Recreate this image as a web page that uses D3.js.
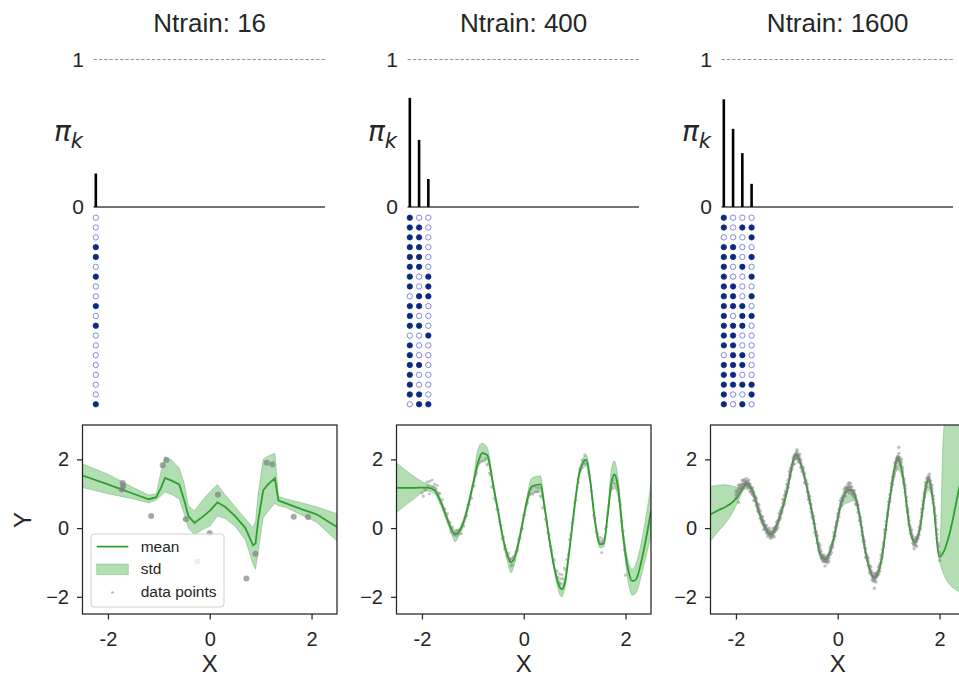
<!DOCTYPE html>
<meta charset="utf-8">
<html>
<style>
  body { margin: 0; background: #fff; }
  text { font-family: "Liberation Sans", Arial, sans-serif; fill: #262626; }
  .tick line { stroke: #262626; stroke-width: 1.25px; }
  .tick text { font-size: 20px; }
</style>
<body>
<script src="https://d3js.org/d3.v7.min.js"></script>
<script>

// titles and mixture weights
var titles = ["Ntrain: 16", "Ntrain: 400", "Ntrain: 1600"];
var piValues = [
  [0.227],
  [0.74, 0.455, 0.19],
  [0.73, 0.53, 0.365, 0.157]
];

// assignment grid (1 = filled, 0 = open), 20 rows each
var zGrid = [
  ["0","0","0","1","1","0","1","0","0","1","0","1","0","0","0","0","0","0","0","1"],
  ["100","110","110","110","110","110","101","101","011","110","100","110","001","100","100","110","100","100","110","011"],
  ["1000","1011","0001","1100","1101","1010","1001","1100","1101","1110","1011","1110","1100","1100","0110","1110","1100","1111","1001","1010"]
];

// predictive mean and std band
var gridX1 = [-2.5,-2.0,-1.5,-1.2,-1.05,-0.95,-0.88,-0.75,-0.6,-0.5,-0.42,-0.3,-0.15,0.0,0.15,0.3,0.5,0.7,0.85,0.9,0.95,1.05,1.15,1.28,1.35,1.5,1.8,2.1,2.5];
var mean1 = [1.53,1.27,1.0,0.84,0.9,1.2,1.46,1.38,1.27,0.8,0.35,0.15,0.32,0.5,0.75,0.62,0.35,0.0,-0.5,-0.45,0.2,1.1,1.28,1.45,0.8,0.72,0.55,0.4,0.03];
var lo1 = [1.18,1.0,0.85,0.73,0.82,0.95,1.05,0.98,0.85,0.4,0.0,-0.2,-0.05,0.05,0.35,0.28,0.05,-0.35,-1.05,-1.2,-0.7,0.3,0.5,0.72,0.65,0.6,0.38,0.17,-0.38];
var hi1 = [1.87,1.57,1.18,0.96,1.0,1.7,2.08,1.98,1.75,1.3,0.65,0.5,0.8,1.05,1.27,0.98,0.62,0.27,0.02,0.2,1.0,2.0,2.1,2.18,0.92,0.85,0.74,0.62,0.42];

var gridX2 = [-2.5,-2.2,-1.9,-1.75,-1.7,-1.6,-1.5,-1.4,-1.35,-1.3,-1.2,-1.1,-1.0,-0.9,-0.82,-0.72,-0.6,-0.5,-0.4,-0.3,-0.25,-0.15,-0.05,0.05,0.15,0.33,0.4,0.5,0.6,0.7,0.75,0.8,0.9,1.0,1.1,1.23,1.3,1.4,1.5,1.57,1.65,1.72,1.78,1.85,1.95,2.05,2.13,2.2,2.35,2.5];
var mean2 = [1.17,1.17,1.18,1.1,0.98,0.65,0.25,-0.1,-0.18,-0.15,0.1,0.6,1.25,1.9,2.18,2.13,1.25,0.45,-0.35,-0.88,-1.0,-0.72,-0.05,0.7,1.2,1.27,0.7,-0.3,-1.15,-1.7,-1.78,-1.65,-0.6,0.65,1.65,1.99,1.45,0.2,-0.47,-0.45,0.4,1.3,1.56,1.2,-0.2,-1.2,-1.54,-1.5,-0.7,0.5];
var lo2 = [0.45,0.8,1.08,1.0,0.88,0.55,0.15,-0.25,-0.4,-0.3,0.0,0.5,1.15,1.75,1.95,1.98,1.15,0.35,-0.45,-1.1,-1.3,-0.85,-0.15,0.6,1.0,1.05,0.6,-0.4,-1.25,-1.9,-2.0,-1.8,-0.7,0.55,1.55,1.8,1.35,0.1,-0.58,-0.55,0.3,1.05,1.15,0.95,-0.35,-1.55,-1.95,-1.9,-1.15,-0.2];
var hi2 = [1.9,1.55,1.28,1.2,1.08,0.75,0.35,0.0,-0.05,-0.05,0.2,0.7,1.35,2.3,2.47,2.35,1.35,0.55,-0.25,-0.78,-0.88,-0.62,0.05,0.8,1.45,1.52,0.8,-0.2,-1.05,-1.55,-1.62,-1.5,-0.5,0.75,1.75,2.12,1.55,0.3,-0.37,-0.35,0.55,1.7,1.95,1.5,0.0,-0.95,-1.2,-1.05,-0.1,1.3];

var gridX3 = [-2.5,-2.35,-2.2,-2.05,-1.95,-1.85,-1.79,-1.67,-1.54,-1.41,-1.31,-1.18,-1.02,-0.82,-0.69,-0.49,-0.33,-0.23,-0.1,0.07,0.22,0.33,0.43,0.56,0.72,0.85,1.02,1.18,1.27,1.42,1.51,1.61,1.74,1.79,1.87,2.0,2.07,2.2,2.36,2.5];
var mean3 = [0.4,0.52,0.62,0.78,0.95,1.2,1.29,1.07,0.44,-0.04,-0.18,0.15,0.93,2.14,1.7,0.35,-0.81,-0.91,-0.43,0.73,1.12,0.98,0.35,-0.81,-1.44,-1.0,0.83,2.04,1.6,-0.04,-0.41,-0.04,1.27,1.41,0.83,-0.83,-0.72,-0.14,0.98,2.0];
var lo3 = [-0.38,-0.1,0.15,0.5,0.8,1.1,1.2,0.98,0.36,-0.12,-0.26,0.07,0.85,2.05,1.62,0.27,-0.89,-0.99,-0.5,0.62,0.75,0.8,0.27,-0.89,-1.52,-1.08,0.75,1.7,1.45,-0.12,-0.5,-0.12,1.0,1.1,0.72,-0.95,-1.3,-1.65,-1.83,-2.0];
var hi3 = [1.22,1.25,1.26,1.22,1.18,1.3,1.38,1.15,0.52,0.04,-0.1,0.23,1.0,2.22,1.78,0.43,-0.73,-0.83,-0.35,0.82,1.2,1.06,0.43,-0.73,-1.36,-0.92,0.91,2.12,1.68,0.04,-0.33,0.04,1.35,1.5,0.92,-0.7,2.6,4.2,5.5,7.0];

// training points
var pts1 = [[-1.71,1.31],[-1.73,1.12],[-1.7,1.22],[-1.15,0.35],[-0.925,1.83],[-0.85,1.98],[-0.47,0.26],[-0.24,-0.97],[0.0,-0.15],[0.16,0.97],[0.72,-1.47],[0.9,-0.75],[1.12,1.9],[1.23,1.86],[1.65,0.33],[1.93,0.32]];

var pts2 = [[-2.0,1.03],[-1.975,0.93],[-1.95,1.13],[-1.925,1.11],[-1.9,1.34],[-1.875,1.24],[-1.85,1.36],[-1.825,1.18],[-1.8,1.40],[-1.775,1.19],
  [-1.75,1.28],[-1.725,1.14],[-1.7,1.24],[-1.675,1.02],[-1.65,1.01],[-1.625,0.72],[-1.6,0.83],[-1.575,0.54],[-1.55,0.55],[-1.525,0.36],
  [-1.5,0.42],[-1.475,0.18],[-1.45,0.16],[-1.425,-0.11],[-1.4,0.03],[-1.375,-0.20],[-1.35,-0.12],[-1.325,-0.22],[-1.3,-0.06],[-1.275,-0.17],
  [-1.25,-0.04],[-1.225,-0.16],[-1.2,0.13],[-1.175,0.06],[-1.15,0.31],[-1.125,0.36],[-1.1,0.67],[-1.075,0.68],[-1.05,0.91],[-1.025,0.87],
  [-1.0,1.23],[-0.975,1.23],[-0.95,1.53],[-0.925,1.60],[-0.9,1.92],[-0.875,1.90],[-0.85,2.08],[-0.825,1.94],[-0.8,2.18],[-0.775,1.96],
  [-0.75,2.03],[-0.725,1.84],[-0.7,1.87],[-0.675,1.60],[-0.65,1.54],[-0.625,1.19],[-0.6,1.23],[-0.575,0.87],[-0.55,0.81],[-0.525,0.54],
  [-0.5,0.52],[-0.475,0.19],[-0.45,0.08],[-0.425,-0.30],[-0.4,-0.27],[-0.375,-0.60],[-0.35,-0.62],[-0.325,-0.81],[-0.3,-0.73],[-0.275,-0.93],
  [-0.25,-0.89],[-0.225,-1.07],[-0.2,-0.84],[-0.175,-0.93],[-0.15,-0.69],[-0.125,-0.64],[-0.1,-0.33],[-0.075,-0.29],[-0.05,-0.02],[-0.025,-0.02],
  [0.0,0.38],[0.025,0.38],[0.05,0.68],[0.075,0.73],[0.1,1.02],[0.125,0.98],[0.15,1.14],[0.175,0.99],[0.2,1.23],[0.225,1.06],
  [0.25,1.18],[0.275,1.06],[0.3,1.17],[0.325,0.94],[0.35,0.91],[0.375,0.58],[0.4,0.63],[0.425,0.26],[0.45,0.18],[0.475,-0.13],
  [0.5,-0.18],[0.525,-0.53],[0.55,-0.64],[0.575,-0.99],[0.6,-0.92],[0.625,-1.25],[0.65,-1.25],[0.675,-1.43],[0.7,-1.33],[0.725,-1.48],
  [0.75,-1.36],[0.775,-1.48],[0.8,-1.17],[0.825,-1.22],[0.85,-0.92],[0.875,-0.77],[0.9,-0.33],[0.925,-0.20],[0.95,0.16],[0.975,0.25],
  [1.0,0.73],[1.025,0.81],[1.05,1.18],[1.075,1.34],[1.1,1.72],[1.125,1.76],[1.15,1.98],[1.175,1.88],[1.2,2.13],[1.225,1.88],
  [1.25,1.88],[1.275,1.60],[1.3,1.52],[1.325,1.09],[1.35,0.86],[1.375,0.37],[1.4,0.28],[1.425,-0.12],[1.45,-0.17],[1.475,-0.37],
  [1.5,-0.28],[1.525,-0.44],[1.55,-0.32],[1.575,-0.40],[1.6,-0.02],[1.625,0.03],[1.65,0.43],[1.675,0.65],[1.7,1.12],[1.725,1.18],
  [1.75,1.41],[1.775,1.30],[1.8,1.53],[1.825,1.22],[1.85,1.13],[1.875,0.80],[1.9,0.67],[1.925,0.20],[1.95,-0.09],[1.975,-0.63],
  [2.0,-0.77],[2.0,-1.37],[1.53,-0.71],[0.72,-1.6],[-0.25,-1.1],[-1.85,1.0]];

// rows: x, then the y values seen at that x
var pts3 = [[-2.0,1.07,0.97,0.86],[-1.975,1.09,0.99,0.89],[-1.95,1.25,1.15,1.05],[-1.925,1.25,1.15,1.04],[-1.9,1.26,1.19,1.12],
  [-1.875,1.39,1.29,1.19],[-1.85,1.40,1.28,1.15],[-1.825,1.38,1.32,1.27],[-1.8,1.44,1.34,1.23],[-1.775,1.35,1.25,1.15],
  [-1.75,1.40,1.30,1.20],[-1.725,1.28,1.18,1.07],[-1.7,1.16,1.09,1.02],[-1.675,1.17,1.07,0.97],[-1.65,1.05,0.93,0.80],
  [-1.625,0.92,0.86,0.81],[-1.6,0.87,0.77,0.66],[-1.575,0.70,0.60,0.50],[-1.55,0.67,0.57,0.47],[-1.525,0.50,0.40,0.29],
  [-1.5,0.34,0.27,0.20],[-1.475,0.33,0.23,0.13],[-1.45,0.20,0.08,-0.05],[-1.425,0.09,0.03,-0.02],[-1.4,0.07,-0.03,-0.14],
  [-1.375,-0.04,-0.14,-0.24],[-1.35,0.00,-0.10,-0.20],[-1.325,-0.08,-0.18,-0.29],[-1.3,-0.14,-0.21,-0.28],[-1.275,-0.02,-0.12,-0.22],
  [-1.25,0.00,-0.12,-0.25],[-1.225,0.04,-0.02,-0.07],[-1.2,0.17,0.07,-0.04],[-1.175,0.22,0.12,0.02],[-1.15,0.43,0.33,0.23],
  [-1.125,0.50,0.40,0.29],[-1.1,0.59,0.52,0.45],[-1.075,0.83,0.73,0.63],[-1.05,0.95,0.83,0.70],[-1.025,1.07,1.01,0.96],
  [-1.0,1.27,1.17,1.06],[-0.975,1.39,1.29,1.19],[-0.95,1.65,1.55,1.45],[-0.925,1.74,1.64,1.53],[-0.9,1.84,1.77,1.70],
  [-0.875,2.05,1.95,1.85],[-0.85,2.12,2.00,1.87],[-0.825,2.14,2.08,2.03],[-0.8,2.22,2.12,2.01],[-0.775,2.12,2.02,1.92],
  [-0.75,2.15,2.05,1.95],[-0.725,1.98,1.88,1.77],[-0.7,1.79,1.72,1.65],[-0.675,1.75,1.65,1.55],[-0.65,1.58,1.46,1.33],
  [-0.625,1.39,1.33,1.28],[-0.6,1.27,1.17,1.06],[-0.575,1.03,0.93,0.83],[-0.55,0.93,0.83,0.73],[-0.525,0.68,0.58,0.47],
  [-0.5,0.44,0.37,0.30],[-0.475,0.34,0.24,0.14],[-0.45,0.12,0.00,-0.13],[-0.425,-0.10,-0.16,-0.21],[-0.4,-0.23,-0.33,-0.44],
  [-0.375,-0.44,-0.54,-0.64],[-0.35,-0.50,-0.60,-0.70],[-0.325,-0.67,-0.77,-0.88],[-0.3,-0.81,-0.88,-0.95],[-0.275,-0.78,-0.88,-0.98],
  [-0.25,-0.85,-0.97,-1.10],[-0.225,-0.87,-0.93,-0.98],[-0.2,-0.80,-0.90,-1.01],[-0.175,-0.77,-0.87,-0.97],[-0.15,-0.57,-0.67,-0.77],
  [-0.125,-0.50,-0.60,-0.71],[-0.1,-0.41,-0.48,-0.55],[-0.075,-0.14,-0.24,-0.34],[-0.05,0.02,-0.10,-0.23],[-0.025,0.18,0.12,0.07],
  [0.0,0.42,0.32,0.21],[0.025,0.54,0.44,0.34],[0.05,0.80,0.70,0.60],[0.075,0.87,0.77,0.66],[0.1,0.94,0.87,0.80],
  [0.125,1.13,1.03,0.93],[0.15,1.18,1.06,0.93],[0.175,1.19,1.13,1.08],[0.2,1.27,1.17,1.06],[0.225,1.22,1.12,1.02],
  [0.25,1.30,1.20,1.10],[0.275,1.20,1.10,0.99],[0.3,1.09,1.02,0.95],[0.325,1.09,0.99,0.89],[0.35,0.95,0.83,0.70],
  [0.375,0.78,0.72,0.67],[0.4,0.67,0.57,0.46],[0.425,0.42,0.32,0.22],[0.45,0.30,0.20,0.10],[0.475,0.01,-0.09,-0.20],
  [0.5,-0.26,-0.33,-0.40],[0.525,-0.38,-0.48,-0.58],[0.55,-0.60,-0.72,-0.85],[0.575,-0.79,-0.85,-0.90],[0.6,-0.88,-0.98,-1.09],
  [0.625,-1.09,-1.19,-1.29],[0.65,-1.13,-1.23,-1.33],[0.675,-1.29,-1.39,-1.50],[0.7,-1.41,-1.48,-1.55],[0.725,-1.33,-1.43,-1.53],
  [0.75,-1.32,-1.44,-1.57],[0.775,-1.28,-1.34,-1.39],[0.8,-1.13,-1.23,-1.34],[0.825,-1.06,-1.16,-1.26],[0.85,-0.80,-0.90,-1.00],
  [0.875,-0.63,-0.73,-0.84],[0.9,-0.41,-0.48,-0.55],[0.925,-0.05,-0.15,-0.25],[0.95,0.20,0.08,-0.05],[0.975,0.45,0.39,0.34],
  [1.0,0.77,0.67,0.56],[1.025,0.97,0.87,0.77],[1.05,1.30,1.20,1.10],[1.075,1.48,1.38,1.27],[1.1,1.64,1.57,1.50],
  [1.125,1.91,1.81,1.71],[1.15,2.02,1.90,1.77],[1.175,2.08,2.02,1.97],[1.2,2.17,2.07,1.96],[1.225,2.04,1.94,1.84],
  [1.25,2.00,1.90,1.80],[1.275,1.74,1.64,1.53],[1.3,1.44,1.37,1.30],[1.325,1.24,1.14,1.04],[1.35,0.90,0.78,0.65],
  [1.375,0.57,0.51,0.46],[1.4,0.32,0.22,0.11],[1.425,0.04,-0.06,-0.16],[1.45,-0.05,-0.15,-0.25],[1.475,-0.23,-0.33,-0.44],
  [1.5,-0.36,-0.43,-0.50],[1.525,-0.29,-0.39,-0.49],[1.55,-0.28,-0.40,-0.53],[1.575,-0.20,-0.26,-0.31],[1.6,0.02,-0.08,-0.19],
  [1.625,0.19,0.09,-0.01],[1.65,0.55,0.45,0.35],[1.675,0.79,0.69,0.58],[1.7,1.04,0.97,0.90],[1.725,1.33,1.23,1.13],
  [1.75,1.45,1.33,1.20],[1.775,1.50,1.44,1.39],[1.8,1.57,1.47,1.36],[1.825,1.38,1.28,1.18],[1.85,1.25,1.15,1.05],
  [1.875,0.94,0.84,0.73],[1.9,0.59,0.52,0.45],[1.925,0.35,0.25,0.15],[1.95,-0.05,-0.17,-0.30],[1.975,-0.43,-0.49,-0.54],
  [2.0,-0.73,-0.83,-0.94],[0.72,-1.75],[-1.95,0.75],[1.5,-0.6],[0.22,1.32],[1.2,2.35],[-0.8,2.28]];

var bands = [
  { x: gridX1, mean: mean1, lo: lo1, hi: hi1, pts: pts1, r: 3.0, op: 0.7, smooth: false },
  { x: gridX2, mean: mean2, lo: lo2, hi: hi2, pts: pts2, r: 1.6, op: 0.45, smooth: true },
  { x: gridX3, mean: mean3, lo: lo3, hi: hi3,
    pts: pts3.flatMap(function(row) { return row.slice(1).map(function(y) { return [row[0], y]; }); }),
    r: 1.7, op: 0.5, smooth: true }
];

var width = 959, height = 677;
var green = "#2ca02c";
var svg = d3.select("body").append("svg")
    .attr("width", width)
    .attr("height", height);

var step = 314;

function fmtMinus(d) { return d < 0 ? "\u2212" + (-d) : "" + d; }
function fmtHyphen(d) { return d < 0 ? "-" + (-d) : "" + d; }

titles.forEach(function(title, i) {
  var ox = step * i;
  var g = svg.append("g");

  // ---- pi_k stem plot ----
  var xTop = d3.scaleLinear().domain([-0.25, 24.75]).range([93.5 + ox, 325 + ox]);
  var yTop = d3.scaleLinear().domain([0, 1]).range([207, 59.5]);

  g.append("line")
      .attr("x1", xTop.range()[0]).attr("x2", xTop.range()[1])
      .attr("y1", yTop(1)).attr("y2", yTop(1))
      .attr("stroke", "#8c8c8c").attr("stroke-width", 0.9)
      .attr("stroke-dasharray", "3.5,1.8");

  g.append("line")
      .attr("x1", xTop.range()[0]).attr("x2", xTop.range()[1])
      .attr("y1", yTop(0)).attr("y2", yTop(0))
      .attr("stroke", "#444").attr("stroke-width", 1.3);

  g.selectAll(".bar")
    .data(piValues[i])
    .enter().append("line")
      .attr("x1", function(d, k) { return xTop(k); })
      .attr("x2", function(d, k) { return xTop(k); })
      .attr("y1", yTop(0))
      .attr("y2", function(d) { return yTop(d); })
      .attr("stroke", "#000").attr("stroke-width", 2.6);

  [0, 1].forEach(function(v) {
    g.append("text")
        .attr("x", 84 + ox).attr("y", yTop(v))
        .attr("dy", "0.35em")
        .attr("text-anchor", "end")
        .style("font-size", "21px")
        .text(v);
  });

  var pl = g.append("text")
      .attr("x", 54 + ox).attr("y", 141)
      .style("font-family", "DejaVu Sans")
      .style("font-style", "italic");
  pl.append("tspan").style("font-size", "28px").text("\u03c0");
  pl.append("tspan").attr("dy", 7).style("font-size", "21px").text("k");

  g.append("text")
      .attr("x", 209.7 + ox).attr("y", 31.5)
      .attr("text-anchor", "middle")
      .style("font-size", "26px")
      .text(title);

  // ---- assignment grid ----
  var yRow = d3.scaleLinear().domain([0, 19]).range([217.7, 404.3]);
  var cells = [];
  zGrid[i].forEach(function(row, r) {
    row.split("").forEach(function(c, k) { cells.push({ r: r, k: k, on: c === "1" }); });
  });
  g.selectAll(".z")
    .data(cells)
    .enter().append("circle")
      .attr("cx", function(d) { return xTop(d.k); })
      .attr("cy", function(d) { return yRow(d.r); })
      .attr("r", 2.7)
      .attr("fill", function(d) { return d.on ? "#0c2a82" : "#fff"; })
      .attr("stroke", function(d) { return d.on ? "#0c2a82" : "#6b6bd8"; })
      .attr("stroke-width", 0.8);

  // ---- regression panel ----
  var b = bands[i];
  var x = d3.scaleLinear().domain([-2.5, 2.5]).range([82.5 + ox, 337 + ox]);
  var y = d3.scaleLinear().domain([-2.5, 3]).range([614, 425]);
  var rows = b.x.map(function(v, j) { return { x: v, m: b.mean[j], lo: b.lo[j], hi: b.hi[j] }; });
  var curve = b.smooth ? d3.curveMonotoneX : d3.curveLinear;

  svg.append("clipPath").attr("id", "clip" + i)
    .append("rect")
      .attr("x", x.range()[0]).attr("y", y.range()[1])
      .attr("width", x.range()[1] - x.range()[0])
      .attr("height", y.range()[0] - y.range()[1]);

  var plot = g.append("g").attr("clip-path", "url(#clip" + i + ")");

  plot.append("path")
      .datum(rows)
      .attr("d", d3.line().x(function(d) { return x(d.x); }).y(function(d) { return y(d.m); }).curve(curve))
      .attr("fill", "none")
      .attr("stroke", green).attr("stroke-width", 1.8);

  plot.append("path")
      .datum(rows)
      .attr("d", d3.area().x(function(d) { return x(d.x); })
          .y0(function(d) { return y(d.lo); })
          .y1(function(d) { return y(d.hi); }).curve(curve))
      .attr("fill", green).attr("fill-opacity", 0.36)
      .attr("stroke", green).attr("stroke-opacity", 0.3).attr("stroke-width", 1);

  plot.selectAll(".pt")
    .data(b.pts)
    .enter().append("circle")
      .attr("cx", function(d) { return x(d[0]); })
      .attr("cy", function(d) { return y(d[1]); })
      .attr("r", b.r)
      .attr("fill", "#808080")
      .attr("fill-opacity", b.op);

  var ax = g.append("g")
      .attr("transform", "translate(0," + y.range()[0] + ")")
      .call(d3.axisBottom(x).tickValues([-2, 0, 2]).tickSize(5.5).tickPadding(12).tickFormat(fmtHyphen));
  ax.select(".domain").remove();

  var ay = g.append("g")
      .attr("transform", "translate(" + x.range()[0] + ",0)")
      .call(d3.axisLeft(y).tickValues([-2, 0, 2]).tickSize(5.5).tickPadding(8).tickFormat(fmtMinus));
  ay.select(".domain").remove();

  g.append("rect")
      .attr("x", x.range()[0]).attr("y", y.range()[1])
      .attr("width", x.range()[1] - x.range()[0])
      .attr("height", y.range()[0] - y.range()[1])
      .attr("fill", "none")
      .attr("stroke", "#262626").attr("stroke-width", 1.25);

  g.append("text")
      .attr("x", (x.range()[0] + x.range()[1]) / 2).attr("y", 672)
      .attr("text-anchor", "middle")
      .style("font-size", "24px")
      .text("X");

  if (i === 0) {
    g.append("text")
        .attr("transform", "translate(31,520) rotate(-90)")
        .attr("text-anchor", "middle")
        .style("font-size", "24px")
        .text("Y");

    // legend
    var lg = g.append("g");
    lg.append("rect")
        .attr("x", 91).attr("y", 534).attr("width", 133).attr("height", 73)
        .attr("rx", 3)
        .attr("fill", "#fff").attr("fill-opacity", 0.8)
        .attr("stroke", "#d0d0d0").attr("stroke-width", 1);
    lg.append("line")
        .attr("x1", 96.7).attr("x2", 128.3).attr("y1", 546.7).attr("y2", 546.7)
        .attr("stroke", green).attr("stroke-width", 1.8);
    lg.append("rect")
        .attr("x", 96.7).attr("y", 564).attr("width", 31.6).attr("height", 10.5)
        .attr("fill", green).attr("fill-opacity", 0.36)
        .attr("stroke", green).attr("stroke-opacity", 0.3);
    lg.append("circle")
        .attr("cx", 112.5).attr("cy", 592.5).attr("r", 1.3)
        .attr("fill", "#808080").attr("fill-opacity", 0.6);
    [["mean", 551.8], ["std", 574.2], ["data points", 597]].forEach(function(e) {
      lg.append("text")
          .attr("x", 140.7).attr("y", e[1])
          .style("font-size", "15.5px")
          .text(e[0]);
    });
  }
});

</script>
</body>
</html>
